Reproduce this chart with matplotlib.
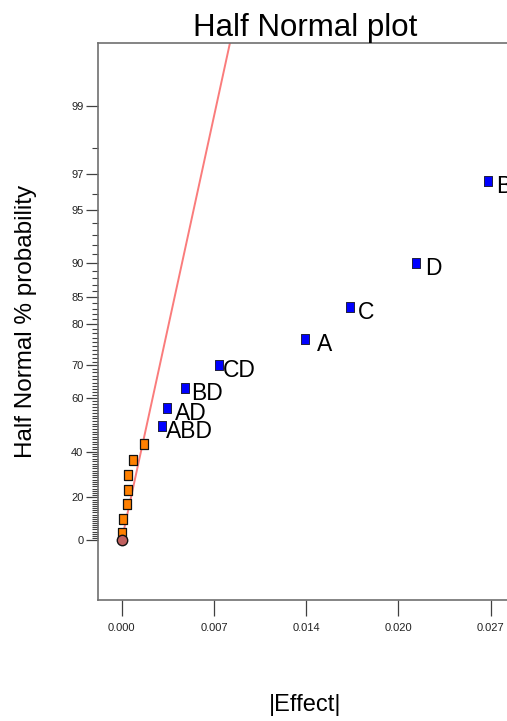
import numpy as np
import matplotlib
matplotlib.use("Agg")
import matplotlib.pyplot as plt
from statistics import NormalDist

plt.rcParams['font.family'] = ['Liberation Sans', 'DejaVu Sans']

# ---- data ----
effect_names = ["ABD", "AD", "BD", "CD", "A", "C", "D", "B"]
effect_abs = [0.00295, 0.00332, 0.00464, 0.00715, 0.01353, 0.01683, 0.02169, 0.02702]
effect_pct = [50.0, 56.7, 63.3, 70.0, 76.7, 83.3, 90.0, 96.7]

error_abs = [0.00000, 0.00007, 0.00039, 0.00044, 0.00044, 0.00085, 0.00162]
error_pct = [3.3, 10.0, 16.7, 23.3, 30.0, 36.7, 43.3]

zero_abs = [0.0]
zero_pct = [0.0]

line_abs = [0.0, 0.0089]
line_pct = [0.0, 99.9]

x_ticks = [0.0, 0.0068, 0.0136, 0.0204, 0.0272]
x_ticklabels = ["0.000", "0.007", "0.014", "0.020", "0.027"]
y_major = [0, 20, 40, 60, 70, 80, 85, 90, 95, 97, 99]
y_minor = [v for v in range(1, 99) if v not in y_major]

# label offsets (px) to the right of each marker
label_dx = [4, 8, 6, 4, 12, 8, 9, 8]

# ---- half-normal probability scale ----
_nd = NormalDist()


def _fwd_scalar(p):
    q = 0.5 + p / 200.0
    q = min(max(q, 1e-9), 1 - 1e-9)
    return _nd.inv_cdf(q)


def _inv_scalar(z):
    return (2.0 * _nd.cdf(z) - 1.0) * 100.0


_fwd_v = np.vectorize(_fwd_scalar, otypes=[float])
_inv_v = np.vectorize(_inv_scalar, otypes=[float])


def fwd(p):
    return _fwd_v(np.asarray(p, dtype=float))


def inv(z):
    return _inv_v(np.asarray(z, dtype=float))


W, H = 507, 721
fig = plt.figure(figsize=(W / 100, H / 100), dpi=100)
ax_l, ax_r, ax_t, ax_b = 98, 512, 43, 600
ax = fig.add_axes([ax_l / W, 1 - ax_b / H, (ax_r - ax_l) / W, (ax_b - ax_t) / H])
ax.set_yscale('function', functions=(fwd, inv))

# fitted line
ax.plot(line_abs, line_pct, color='#FA7C7C', lw=1.4, zorder=2)

rect = [(-0.35, -0.5), (0.35, -0.5), (0.35, 0.5), (-0.35, 0.5), (-0.35, -0.5)]
ax.plot(error_abs, error_pct, linestyle='none', marker=rect, ms=7.5,
        mfc='#FF8000', mec='#111111', mew=0.9, zorder=3)
ax.plot(zero_abs, zero_pct, linestyle='none', marker='o', ms=7.5,
        mfc='#C0605F', mec='#111111', mew=1.0, zorder=3, clip_on=False)
ax.plot(effect_abs, effect_pct, linestyle='none', marker=rect, ms=7.5,
        mfc='#0000FF', mec='#202040', mew=0.7, zorder=4)

for name, xv, yv, dx in zip(effect_names, effect_abs, effect_pct, label_dx):
    ax.annotate(name, (xv, yv), xytext=(dx * 0.72, -5.5 * 0.72),
                textcoords='offset points', ha='left', va='center',
                fontsize=16.5, color='black', annotation_clip=False)

# axes limits
ax.set_xlim(-0.001747, 0.02877)
ax.set_ylim(inv(-0.356), inv(2.95))

ax.set_xticks(x_ticks)
ax.set_xticklabels(x_ticklabels)
ax.set_yticks(y_major)
ax.set_yticklabels([str(v) for v in y_major])
ax.set_yticks(y_minor, minor=True)
ax.xaxis.set_minor_locator(matplotlib.ticker.NullLocator())

ax.tick_params(axis='x', which='major', length=11.5, width=0.9, color='#404040',
               labelsize=8, pad=5, labelcolor='#222222')
ax.tick_params(axis='y', which='major', length=8.5, width=0.9, color='#404040',
               labelsize=8, pad=2, labelcolor='#222222')
ax.tick_params(axis='y', which='minor', length=4.3, width=0.8, color='#404040')

for s in ['left', 'bottom', 'top']:
    ax.spines[s].set_color('#707070')
    ax.spines[s].set_linewidth(1.2)
ax.spines['right'].set_visible(False)

ax.set_title("Half Normal plot", fontsize=22.5, pad=1)
ax.set_xlabel("|Effect|", fontsize=17)
ax.set_ylabel("Half Normal % probability", fontsize=17.5)
ax.xaxis.set_label_coords((305 - ax_l) / (ax_r - ax_l), -(694 - ax_b) / (ax_b - ax_t))
ax.yaxis.set_label_coords(-(98 - 37) / (ax_r - ax_l), 0.5)

fig.savefig("out.png", dpi=100)
